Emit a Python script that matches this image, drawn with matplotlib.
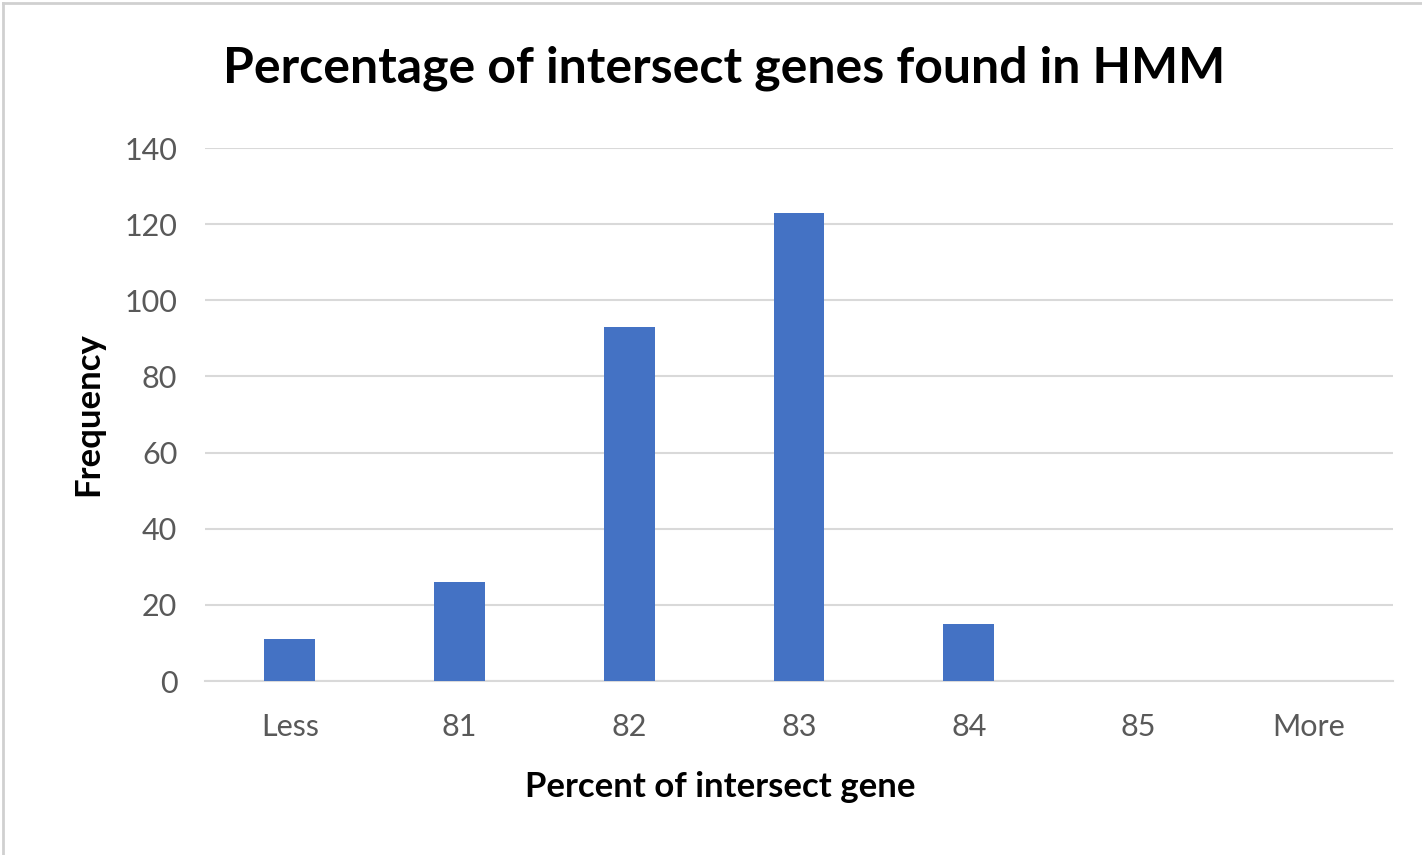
import matplotlib.pyplot as plt
from matplotlib.lines import Line2D

plt.rcParams['font.family'] = ['Lato', 'DejaVu Sans']

bins = ['Less', '81', '82', '83', '84', '85', 'More']
frequency = [11, 26, 93, 123, 15, 0, 0]
yticks = [0, 20, 40, 60, 80, 100, 120, 140]

bar_color = '#4472C4'
grid_color = '#D9D9D9'
tick_color = '#595959'

fig = plt.figure(figsize=(14.22, 8.55), dpi=100)
ax = fig.add_axes([0.1442, 0.2035, 0.8354, 0.6234])

x = range(len(bins))
ax.bar(x, frequency, width=0.3, color=bar_color, zorder=3)

ax.set_xlim(-0.5, len(bins) - 0.5)
ax.set_ylim(0, 140)
ax.set_yticks(yticks)
ax.set_xticks(list(x))
ax.set_xticklabels(bins)

ax.grid(axis='y', color=grid_color, linewidth=1.5, zorder=0)
for side in ['top', 'right', 'left']:
    ax.spines[side].set_visible(False)
ax.spines['bottom'].set_color(grid_color)
ax.spines['bottom'].set_linewidth(1.5)
ax.tick_params(axis='both', length=0, labelsize=22, labelcolor=tick_color)
ax.tick_params(axis='x', pad=23)
ax.tick_params(axis='y', pad=20)

ax.set_xlabel('Percent of intersect gene', fontsize=25, fontweight='bold')
ax.xaxis.set_label_coords(0.434, -0.168)
ax.set_ylabel('Frequency', fontsize=25, fontweight='bold')
ax.yaxis.set_label_coords(-0.085, 0.5)

fig.text(0.509, 0.92, 'Percentage of intersect genes found in HMM',
         ha='center', va='center', fontsize=36, fontweight='bold')

# light frame edges along the top and left of the chart
fig.add_artist(Line2D([0.002, 1.0], [0.996, 0.996], transform=fig.transFigure,
                      color='#D0D0D0', linewidth=2))
fig.add_artist(Line2D([0.002, 0.002], [0.0, 0.996], transform=fig.transFigure,
                      color='#D0D0D0', linewidth=2))

fig.savefig('out.png', dpi=100)
